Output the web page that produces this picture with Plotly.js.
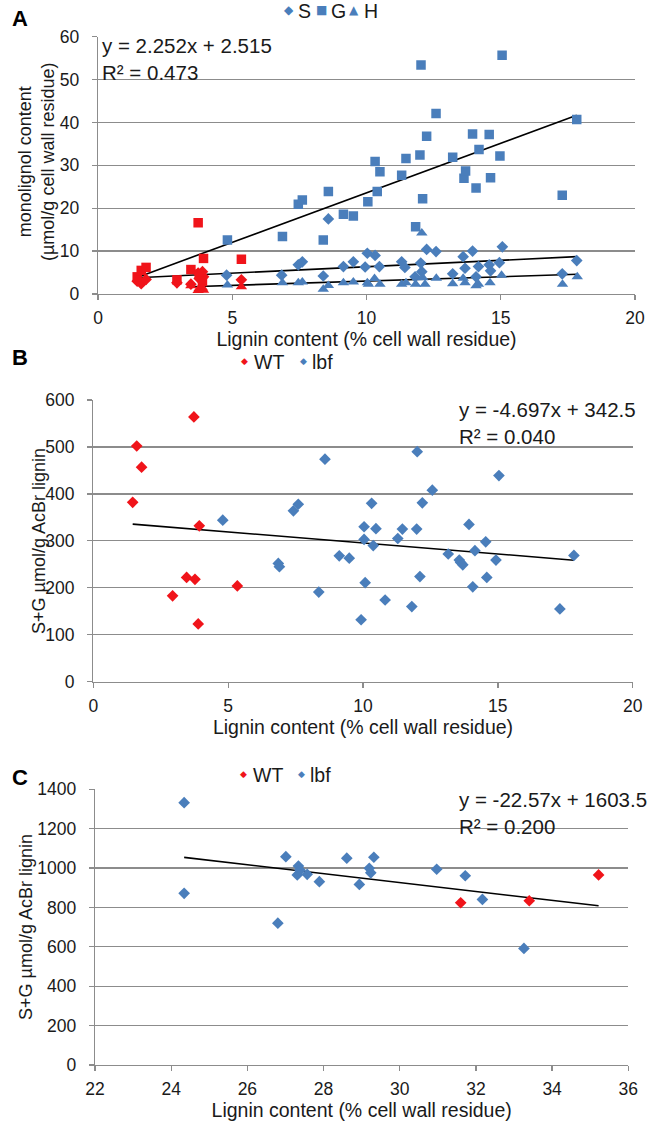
<!DOCTYPE html>
<html>
<head>
<meta charset="utf-8">
<script src="https://cdn.plot.ly/plotly-3.0.1.min.js"></script>
<style>html,body{margin:0;padding:0;background:#fff;}#chart{width:649px;height:1125px;}</style>
</head>
<body>
<div id="chart"></div>
<script>
// ---------- Panel A data (monolignol content vs lignin content) ----------
const aWtX  = [1.46, 1.61, 1.79, 2.94, 3.46, 3.73, 3.77, 3.89, 3.93, 5.34];
const aWtS  = [3.0, 2.4, 3.4, 2.6, 2.3, 4.9, 3.6, 5.2, 4.0, 3.3];
const aWtG  = [4.0, 5.5, 6.2, 3.3, 5.7, 16.6, 4.6, 2.9, 8.3, 8.1];
const aWtHX = [3.46, 3.73, 3.77, 3.89, 3.93, 5.34];
const aWtH  = [1.9, 0.8, 1.3, 1.4, 0.9, 1.7];

const aSX = [4.79, 6.84, 7.46, 7.61, 8.39, 8.58, 9.14, 9.51, 9.95, 10.03, 10.32, 10.48, 11.31, 11.43, 11.81, 12.02, 12.06, 12.24, 12.59, 13.21, 13.60, 13.67, 13.95, 14.08, 14.17, 14.57, 14.62, 14.95, 15.06, 17.29, 17.83];
const aS  = [4.4, 4.4, 6.8, 7.5, 4.2, 17.5, 6.4, 7.5, 6.3, 9.5, 9.0, 6.4, 7.5, 6.2, 4.0, 7.2, 5.2, 10.4, 9.9, 4.7, 8.7, 6.0, 10.0, 4.0, 6.4, 6.8, 5.4, 7.3, 11.0, 4.7, 7.8];

const aGX = [4.82, 6.87, 7.46, 7.61, 8.39, 8.58, 9.14, 9.51, 10.05, 10.32, 10.40, 10.50, 11.31, 11.47, 11.83, 11.99, 12.03, 12.09, 12.24, 12.59, 13.21, 13.63, 13.69, 13.95, 14.08, 14.19, 14.57, 14.62, 14.97, 15.05, 17.29, 17.83];
const aG  = [12.6, 13.4, 20.9, 21.9, 12.6, 23.9, 18.6, 18.2, 21.5, 30.9, 23.9, 28.5, 27.7, 31.6, 15.7, 32.4, 53.4, 22.2, 36.8, 42.1, 31.9, 27.0, 28.7, 37.3, 24.7, 33.7, 37.2, 27.1, 32.2, 55.7, 23.0, 40.7];

const aHX = [4.82, 6.87, 7.46, 7.61, 8.39, 8.58, 9.14, 9.51, 10.03, 10.07, 10.30, 10.50, 11.31, 11.47, 11.83, 12.06, 12.10, 12.18, 12.60, 13.21, 13.60, 13.67, 14.08, 14.17, 14.60, 15.03, 17.30, 17.85];
const aH  = [2.1, 2.6, 2.6, 2.8, 1.1, 2.0, 2.6, 2.8, 2.6, 2.3, 3.6, 2.3, 2.3, 2.6, 2.3, 14.2, 3.8, 2.3, 3.7, 2.4, 3.7, 2.6, 1.9, 2.3, 2.6, 4.4, 2.3, 4.0];

// trend lines: [S, G, H]
const aTrendNames = ['S', 'G', 'H'];
const aTrendSlope = [0.30, 2.31, 0.201];
const aTrendIntercept = [3.36, 0.5, 1.01];

// ---------- Panel B data (S+G per AcBr lignin) ----------
const bWtX = [1.46, 1.61, 1.79, 2.94, 3.46, 3.73, 3.77, 3.89, 3.93, 5.34];
const bWtY = [382, 502, 457, 183, 222, 564, 218, 123, 332, 204];
const bLbfX = [4.80, 6.86, 6.90, 7.42, 7.60, 8.36, 8.59, 9.12, 9.49, 9.93, 10.04, 10.04, 10.08, 10.32, 10.38, 10.48, 10.82, 11.29, 11.46, 11.81, 11.99, 12.01, 12.11, 12.20, 12.57, 13.16, 13.57, 13.62, 13.70, 13.93, 14.07, 14.15, 14.55, 14.59, 14.93, 15.04, 17.30, 17.82];
const bLbfY = [344, 252, 245, 364, 378, 191, 474, 268, 263, 132, 330, 303, 211, 380, 290, 326, 174, 305, 325, 160, 325, 490, 224, 381, 408, 272, 259, 254, 249, 335, 202, 279, 298, 222, 259, 439, 155, 269];
const bSlope = -4.697, bIntercept = 342.5;

// ---------- Panel C data ----------
const cWtX = [31.60, 33.40, 35.22];
const cWtY = [824, 834, 965];
const cLbfX = [24.34, 24.34, 26.80, 27.01, 27.31, 27.34, 27.38, 27.57, 27.89, 28.61, 28.94, 29.20, 29.24, 29.32, 30.97, 31.72, 32.17, 33.26];
const cLbfY = [1332, 872, 720, 1058, 965, 1010, 990, 968, 931, 1050, 917, 999, 976, 1055, 994, 961, 841, 592];
const cSlope = -22.57, cIntercept = 1603.5;

// ---------- text ----------
const xTitle = 'Lignin content (% cell wall residue)';
const aYTitle = 'monolignol content<br>(µmol/g cell wall residue)';
const bcYTitle = 'S+G µmol/g AcBr lignin';
const aEq = ['y = 2.252x + 2.515', 'R² = 0.473'];
const bEq = ['y = -4.697x + 342.5', 'R² = 0.040'];
const cEq = ['y = -22.57x + 1603.5', 'R² = 0.200'];
const aLegend = ['S', 'G', 'H'];
const bcLegend = ['WT', 'lbf'];

// ---------- styling ----------
const BLUE = '#4a7ebb', RED = '#f0141a', GRID = '#8c8c8c', TXT = '#1a1a1a';
const FONT = 'Liberation Sans, Arial, sans-serif';
const W = 649, H = 1125;
const fx = p => p / W, fy = p => 1 - p / H;

function trend(xs, slope, intercept, xa, ya) {
  const lo = Math.min(...xs), hi = Math.max(...xs);
  return {x: [lo, hi], y: [slope * lo + intercept, slope * hi + intercept], mode: 'lines',
    line: {color: '#000', width: 1.6}, xaxis: xa, yaxis: ya, showlegend: false, hoverinfo: 'skip'};
}
function pts(x, y, sym, color, size, xa, ya, name) {
  return {x, y, mode: 'markers', name, marker: {symbol: sym, color, size, line: {width: 0}},
    xaxis: xa, yaxis: ya, showlegend: false};
}
const DS = 9, SS = 9.5, TS = 10;

const traces = [
  trend(aWtX.concat(aGX), aTrendSlope[1], aTrendIntercept[1], 'x', 'y'),
  trend(aWtX.concat(aSX), aTrendSlope[0], aTrendIntercept[0], 'x', 'y'),
  trend(aWtHX.concat(aHX), aTrendSlope[2], aTrendIntercept[2], 'x', 'y'),
  pts(aSX, aS, 'diamond', BLUE, DS, 'x', 'y', 'S'),
  pts(aGX, aG, 'square', BLUE, SS, 'x', 'y', 'G'),
  pts(aHX, aH, 'triangle-up', BLUE, TS, 'x', 'y', 'H'),
  pts(aWtX, aWtS, 'diamond', RED, DS, 'x', 'y', 'S WT'),
  pts(aWtX, aWtG, 'square', RED, SS, 'x', 'y', 'G WT'),
  pts(aWtHX, aWtH, 'triangle-up', RED, TS, 'x', 'y', 'H WT'),

  trend(bWtX.concat(bLbfX), bSlope, bIntercept, 'x2', 'y2'),
  pts(bWtX, bWtY, 'diamond', RED, DS, 'x2', 'y2', 'WT'),
  pts(bLbfX, bLbfY, 'diamond', BLUE, DS, 'x2', 'y2', 'lbf'),

  trend(cWtX.concat(cLbfX), cSlope, cIntercept, 'x3', 'y3'),
  pts(cWtX, cWtY, 'diamond', RED, DS, 'x3', 'y3', 'WT'),
  pts(cLbfX, cLbfY, 'diamond', BLUE, DS, 'x3', 'y3', 'lbf')
];

const tickFont = {family: FONT, size: 17.5, color: TXT};
const xTitleFont = {family: FONT, size: 19.5, color: TXT};
function xax(range, dtick, dom, anchor, standoff) {
  return {range, dtick, domain: dom, anchor, showgrid: false, zeroline: false, showline: true,
    linecolor: GRID, linewidth: 1.3, ticks: 'outside', ticklen: 5, tickcolor: GRID, tickwidth: 1.3,
    tickfont: tickFont, ticklabelstandoff: 3,
    title: {text: xTitle, font: xTitleFont, standoff}, fixedrange: true};
}
function yax(range, dtick, dom, anchor) {
  return {range, dtick, domain: dom, anchor, showgrid: true, gridcolor: GRID, gridwidth: 1.3,
    zeroline: false, showline: true, linecolor: GRID, linewidth: 1.3, ticks: 'outside', ticklen: 5,
    tickcolor: GRID, tickwidth: 1.3, tickfont: tickFont, ticklabelstandoff: 9, fixedrange: true};
}

function yTitleAnn(text, xpx, ypx) {
  return {xref: 'paper', yref: 'paper', x: fx(xpx), y: fy(ypx), xanchor: 'center', yanchor: 'middle',
    textangle: -90, showarrow: false, text, align: 'center', borderpad: 0,
    font: {family: FONT, size: 18, color: TXT}};
}
function eqAnn(lines, xpx, ypx) {
  return {xref: 'paper', yref: 'paper', x: fx(xpx), y: fy(ypx), xanchor: 'left', yanchor: 'top',
    align: 'left', showarrow: false, text: lines.join('<br>'),
    font: {family: FONT, size: 20.5, color: TXT}};
}
function letter(t, ypx) {
  return {xref: 'paper', yref: 'paper', x: fx(10), y: fy(ypx), xanchor: 'left', yanchor: 'middle',
    showarrow: false, text: '<b>' + t + '</b>', font: {family: FONT, size: 22, color: '#000'}};
}
function legSym(ch, color, size, xpx, ypx) {
  return {xref: 'paper', yref: 'paper', x: fx(xpx), y: fy(ypx), xanchor: 'center', yanchor: 'middle',
    showarrow: false, text: ch, font: {family: 'DejaVu Sans, sans-serif', size, color}, borderpad: 0};
}
function legText(label, xpx, ypx) {
  return {xref: 'paper', yref: 'paper', x: fx(xpx), y: fy(ypx), xanchor: 'left', yanchor: 'middle',
    showarrow: false, text: label, font: {family: FONT, size: 19.5, color: TXT}, borderpad: 0};
}

const layout = {
  width: W, height: H, margin: {l: 0, r: 0, t: 0, b: 0},
  paper_bgcolor: '#fff', plot_bgcolor: '#fff', showlegend: false,
  xaxis:  xax([0, 20], 5, [fx(98), fx(635)], 'y', 0),
  yaxis:  yax([0, 60], 10, [fy(294), fy(36.7)], 'x'),
  xaxis2: xax([0, 20], 5, [fx(93.3), fx(632.7)], 'y2', 0),
  yaxis2: yax([0, 600], 100, [fy(681.7), fy(400)], 'x2'),
  xaxis3: xax([22, 36], 2, [fx(95), fx(628.3)], 'y3', 1),
  yaxis3: yax([0, 1400], 200, [fy(1065), fy(789.3)], 'x3'),
  annotations: [
    letter('A', 19), letter('B', 357), letter('C', 777),
    yTitleAnn(aYTitle, 36, 162),
    yTitleAnn(bcYTitle, 39, 541),
    yTitleAnn(bcYTitle, 26, 927),
    eqAnn(aEq, 100, 32),
    eqAnn(bEq, 457, 396),
    eqAnn(cEq, 457, 786),
    legSym('◆', BLUE, 12, 289, 10), legText(aLegend[0], 297, 11),
    legSym('■', BLUE, 12, 321, 10), legText(aLegend[1], 330, 11),
    legSym('▲', BLUE, 12, 354, 10), legText(aLegend[2], 363, 11),
    legSym('◆', RED, 9, 244, 361), legText(bcLegend[0], 253, 362),
    legSym('◆', BLUE, 9, 303, 361), legText(bcLegend[1], 311, 362),
    legSym('◆', RED, 9, 243, 774), legText(bcLegend[0], 252, 775),
    legSym('◆', BLUE, 9, 301, 774), legText(bcLegend[1], 309, 775)
  ]
};

Plotly.newPlot('chart', traces, layout, {staticPlot: true, displayModeBar: false});
</script>
</body>
</html>
